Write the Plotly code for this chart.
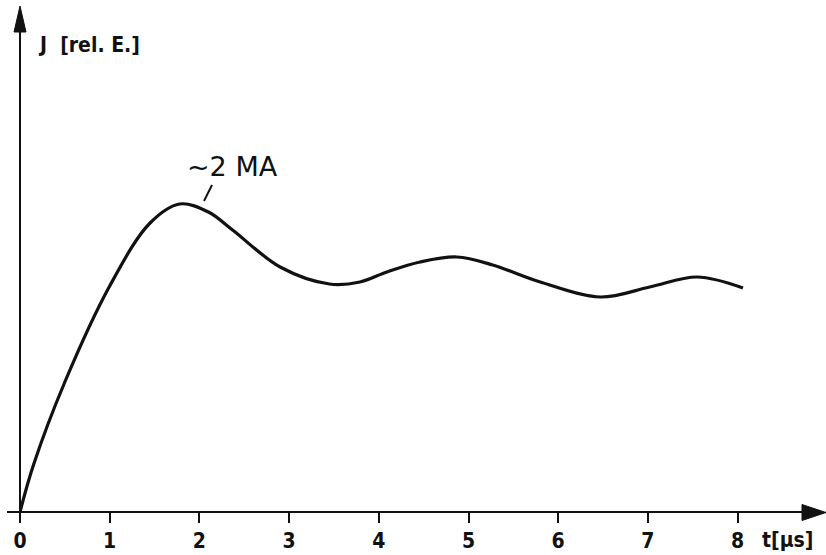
import plotly.graph_objects as go

# Data (time in µs, current J in relative units)
t_us = [0.0, 0.15, 0.5, 1.0, 1.45, 1.78, 2.1, 2.37, 2.90, 3.45, 3.79, 4.09, 4.46, 4.87, 5.27, 5.80, 6.47, 7.02, 7.55, 8.06]
j_rel = [0.0, 0.47, 1.30, 2.26, 2.89, 3.08, 3.00, 2.82, 2.45, 2.28, 2.30, 2.40, 2.50, 2.55, 2.47, 2.30, 2.15, 2.25, 2.35, 2.24]
x_ticks = [0, 1, 2, 3, 4, 5, 6, 7, 8]
x_tick_labels = ["0", "1", "2", "3", "4", "5", "6", "7", "8"]
peak_label = "~2 MA"
y_title = "J\u00a0\u00a0[rel. E.]"
x_title = "t[µs]"

W, H = 826, 555
ML, MB, MT, MR = 20, 43, 0, 0
PW, PH = W - ML - MR, H - MB - MT
XMAX = PW / 89.7
YMAX = PH / 100.0

FONT_C = "DejaVu Sans Condensed, Liberation Sans Narrow, DejaVu Sans, sans-serif"
INK = "#111111"


def px(x):
    return (x - ML) / PW


def py(y):
    return (H - MB - y) / PH


fig = go.Figure()
fig.add_trace(go.Scatter(
    x=t_us, y=j_rel, mode="lines",
    line=dict(color=INK, width=3.2, shape="spline", smoothing=1.0),
    hoverinfo="skip", showlegend=False,
))

shapes = []
# axis lines (with small overhangs like the drawing)
shapes.append(dict(type="line", xref="paper", yref="paper", x0=px(7), y0=py(512), x1=px(806), y1=py(512),
                   line=dict(color=INK, width=2)))
shapes.append(dict(type="line", xref="paper", yref="paper", x0=px(20), y0=py(522), x1=px(20), y1=py(28),
                   line=dict(color=INK, width=2)))
# arrow heads
shapes.append(dict(type="path", xref="paper", yref="paper",
                   path=f"M {px(826)} {py(512.5)} L {px(802)} {py(504.5)} L {px(802)} {py(520.5)} Z",
                   fillcolor=INK, line=dict(color=INK, width=1)))
shapes.append(dict(type="path", xref="paper", yref="paper",
                   path=f"M {px(20)} {py(6)} L {px(14)} {py(32)} L {px(26)} {py(32)} Z",
                   fillcolor=INK, line=dict(color=INK, width=1)))
# leader line of the peak label
shapes.append(dict(type="line", xref="paper", yref="paper", x0=px(212), y0=py(185), x1=px(204), y1=py(201),
                   line=dict(color=INK, width=2)))

annotations = [
    dict(text=peak_label, xref="paper", yref="paper", x=px(185), y=py(166), xanchor="left", yanchor="middle",
         showarrow=False, font=dict(family="DejaVu Sans, sans-serif", size=27, color=INK)),
    dict(text=y_title, xref="paper", yref="paper", x=px(36), y=py(45), xanchor="left", yanchor="middle",
         showarrow=False, font=dict(family=FONT_C, size=21, color=INK, weight="bold")),
    dict(text=x_title, xref="paper", yref="paper", x=px(760), y=py(540), xanchor="left", yanchor="middle",
         showarrow=False, font=dict(family=FONT_C, size=21, color=INK, weight="bold")),
]

fig.update_layout(
    width=W, height=H,
    margin=dict(l=ML, r=MR, t=MT, b=MB, pad=0),
    paper_bgcolor="white", plot_bgcolor="white",
    shapes=shapes, annotations=annotations,
    showlegend=False,
    xaxis=dict(range=[0, XMAX], showgrid=False, zeroline=False, showline=False,
               tickmode="array", tickvals=x_ticks, ticktext=x_tick_labels,
               ticks="outside", ticklen=10, tickwidth=2, tickcolor=INK,
               tickfont=dict(family=FONT_C, size=21, color=INK, weight="bold"),
               fixedrange=True),
    yaxis=dict(range=[0, YMAX], showgrid=False, zeroline=False, showline=False,
               showticklabels=False, ticks="", fixedrange=True),
)

fig.write_html(
    "out.html",
    config={"displayModeBar": False},
    post_script="document.body.style.margin='0';document.body.style.overflow='hidden';",
)
